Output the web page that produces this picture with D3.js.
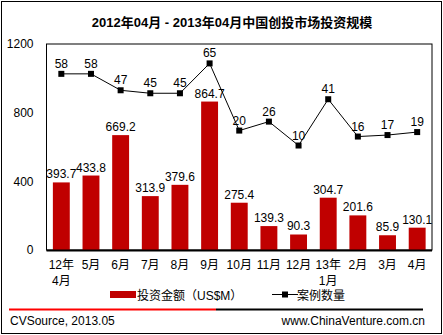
<!DOCTYPE html>
<html><head><meta charset="utf-8">
<script src="https://cdn.jsdelivr.net/npm/d3@7"></script>
<style>
body{margin:0;background:#fff;}
svg text{font-family:"Liberation Sans",Arial,"Noto Sans CJK SC",sans-serif;}
</style></head>
<body><svg id="c" width="443" height="335"></svg>
<script>
const categories = ["12年|4月","5月","6月","7月","8月","9月","10月","11月","12月","13年|1月","2月","3月","4月"];
const amounts = [393.7,433.8,669.2,313.9,379.6,864.7,275.4,139.3,90.3,304.7,201.6,85.9,130.1];
const deals = [58,58,47,45,45,65,20,26,10,41,16,17,19];
const yTicks = [0,400,800,1200];
const title = "2012年04月 - 2013年04月中国创投市场投资规模";
const legendBar = "投资金额（US$M）";
const legendLine = "案例数量";
const source = "CVSource, 2013.05";
const site = "www.ChinaVenture.com.cn";

const svg = d3.select("#c");
const L=46.5, R=432, T=44, B=250;
const red="#C00000";

svg.append("rect").attr("x",1.5).attr("y",1.5).attr("width",440).attr("height",332)
  .attr("fill","#fff").attr("stroke","#000").attr("stroke-width",1);

svg.append("text").attr("x",232).attr("y",27).attr("text-anchor","middle")
  .style("font-weight","bold").style("font-size","13px")
  .text(title);

const x = d3.scaleBand().domain(categories).range([L,R]).paddingInner(0.43).paddingOuter(0.215);
const y = d3.scaleLinear().domain([0,1200]).range([B,T]);
const y2 = d3.scaleLinear().domain([-60,78]).range([B,T]);

// plot frame
svg.append("rect").attr("x",L).attr("y",T).attr("width",R-L).attr("height",B-T)
  .attr("fill","none").attr("stroke","#000").attr("stroke-width",1);

// y axis labels
const ya = d3.axisLeft(y).tickValues(yTicks).tickFormat(d3.format("d")).tickSize(0).tickPadding(13);
const gy = svg.append("g").attr("transform",`translate(${L},0)`).call(ya);
gy.select(".domain").remove();
gy.selectAll("text").style("font-size","12px").style("font-family","'Liberation Sans',Arial,sans-serif").attr("fill","#000");

// bars
svg.selectAll("rect.bar").data(amounts).enter().append("rect").attr("class","bar")
  .attr("x",(d,i)=>x(categories[i])).attr("width",x.bandwidth())
  .attr("y",d=>y(d)).attr("height",d=>B-y(d)).attr("fill",red);

// axis baseline
svg.append("line").attr("x1",L).attr("x2",R).attr("y1",B+0.5).attr("y2",B+0.5).attr("stroke","#000").attr("stroke-width",2);

// bar labels
svg.selectAll("text.bl").data(amounts).enter().append("text").attr("class","bl")
  .attr("x",(d,i)=>x(categories[i])+x.bandwidth()/2).attr("y",d=>y(d)-4)
  .attr("text-anchor","middle").style("font-size","12px").text(d=>d);

// line
const cx = i=>x(categories[i])+x.bandwidth()/2;
svg.append("path").datum(deals).attr("fill","none").attr("stroke","#000").attr("stroke-width",1)
  .attr("d",d3.line().x((d,i)=>cx(i)).y(d=>y2(d)));
svg.selectAll("rect.mk").data(deals).enter().append("rect").attr("class","mk")
  .attr("x",(d,i)=>cx(i)-3).attr("y",d=>y2(d)-3).attr("width",6).attr("height",6).attr("fill","#000");
svg.selectAll("text.ll").data(deals).enter().append("text").attr("class","ll")
  .attr("x",(d,i)=>cx(i)).attr("y",d=>y2(d)-6)
  .attr("text-anchor","middle").style("font-size","12px").text(d=>d);

// x labels
categories.forEach((c,i)=>{
  const parts=c.split("|");
  parts.forEach((p,j)=>{
    svg.append("text").attr("x",cx(i)).attr("y",269+j*16).attr("text-anchor","middle")
      .style("font-size","12px").text(p);
  });
});

// legend
svg.append("rect").attr("x",110).attr("y",291).attr("width",26).attr("height",7).attr("fill",red);
svg.append("text").attr("x",137).attr("y",300).style("font-size","12px").text(legendBar);
svg.append("line").attr("x1",272).attr("x2",298).attr("y1",294.5).attr("y2",294.5).attr("stroke","#000");
svg.append("rect").attr("x",282).attr("y",291.5).attr("width",6).attr("height",6).attr("fill","#000");
svg.append("text").attr("x",297).attr("y",300).style("font-size","12px").text(legendLine);

// separator
svg.append("line").attr("x1",9).attr("x2",216).attr("y1",309.5).attr("y2",309.5).attr("stroke","#FF0000").attr("stroke-width",2);
svg.append("line").attr("x1",216).attr("x2",423).attr("y1",309.5).attr("y2",309.5).attr("stroke","#000").attr("stroke-width",2);

svg.append("text").attr("x",10).attr("y",325).style("font-size","12px").text(source);
svg.append("text").attr("x",425).attr("y",325).attr("text-anchor","end").style("font-size","12px").text(site);
</script></body></html>
